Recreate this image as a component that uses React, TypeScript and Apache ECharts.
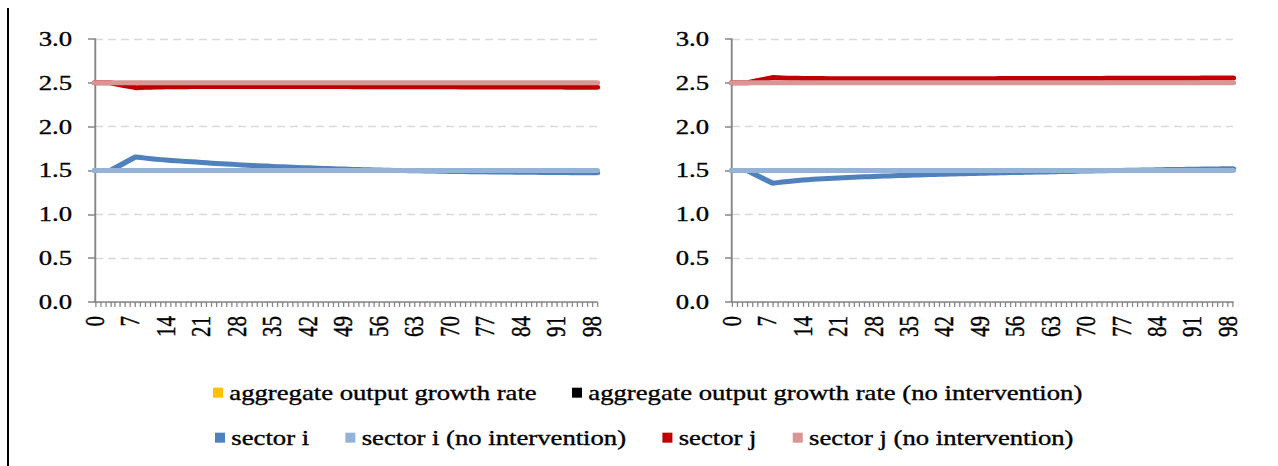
import React, { useEffect, useRef } from "react";
import * as echarts from "echarts";

const categories = [
  "0","1","2","3","4","5","6","7","8","9","10","11","12","13","14","15","16","17","18","19",
  "20","21","22","23","24","25","26","27","28","29","30","31","32","33","34","35","36","37","38","39",
  "40","41","42","43","44","45","46","47","48","49","50","51","52","53","54","55","56","57","58","59",
  "60","61","62","63","64","65","66","67","68","69","70","71","72","73","74","75","76","77","78","79",
  "80","81","82","83","84","85","86","87","88","89","90","91","92","93","94","95","96","97","98","99"
];

const yTicks = [0, 0.5, 1.0, 1.5, 2.0, 2.5, 3.0];

// Left panel
const leftSectorI = [
  1.5, 1.5, 1.5, 1.5,
  1.531, 1.562, 1.593, 1.624, 1.655,
  1.648, 1.641, 1.635, 1.629, 1.624, 1.619,
  1.615, 1.611, 1.607, 1.603, 1.599, 1.596, 1.592,
  1.588, 1.584, 1.581, 1.577, 1.574, 1.57, 1.567,
  1.564, 1.561, 1.558, 1.555, 1.552, 1.55, 1.547,
  1.544, 1.542, 1.539, 1.537, 1.535, 1.532, 1.53,
  1.528, 1.526, 1.524, 1.522, 1.52, 1.518, 1.516,
  1.514, 1.512, 1.511, 1.509, 1.508, 1.506, 1.505,
  1.503, 1.502, 1.501, 1.5, 1.499, 1.498, 1.497,
  1.496, 1.495, 1.494, 1.493, 1.492, 1.491, 1.49,
  1.489, 1.489, 1.488, 1.487, 1.486, 1.486, 1.485,
  1.484, 1.484, 1.483, 1.482, 1.482, 1.481, 1.481,
  1.48, 1.479, 1.479, 1.478, 1.478, 1.477, 1.477,
  1.476, 1.476, 1.475, 1.475, 1.474, 1.474, 1.473,
  1.473
];
const leftSectorINo = [
  1.5,1.5,1.5,1.5,1.5,1.5,1.5,1.5,1.5,1.5,1.5,1.5,1.5,1.5,1.5,1.5,1.5,1.5,1.5,1.5,
  1.5,1.5,1.5,1.5,1.5,1.5,1.5,1.5,1.5,1.5,1.5,1.5,1.5,1.5,1.5,1.5,1.5,1.5,1.5,1.5,
  1.5,1.5,1.5,1.5,1.5,1.5,1.5,1.5,1.5,1.5,1.5,1.5,1.5,1.5,1.5,1.5,1.5,1.5,1.5,1.5,
  1.5,1.5,1.5,1.5,1.5,1.5,1.5,1.5,1.5,1.5,1.5,1.5,1.5,1.5,1.5,1.5,1.5,1.5,1.5,1.5,
  1.5,1.5,1.5,1.5,1.5,1.5,1.5,1.5,1.5,1.5,1.5,1.5,1.5,1.5,1.5,1.5,1.5,1.5,1.5,1.5
];
const leftSectorJ = [
  2.5, 2.5, 2.5, 2.5,
  2.489, 2.478, 2.467, 2.456, 2.445,
  2.447, 2.449, 2.451, 2.452, 2.453, 2.454,
  2.455, 2.455, 2.456, 2.456, 2.457, 2.457, 2.457,
  2.458, 2.458, 2.458, 2.458, 2.458, 2.458, 2.458,
  2.458, 2.458, 2.458, 2.458, 2.458, 2.458, 2.458,
  2.458, 2.458, 2.458, 2.458, 2.458, 2.458, 2.458,
  2.458, 2.458, 2.457, 2.457, 2.457, 2.457, 2.457,
  2.457, 2.456, 2.456, 2.456, 2.456, 2.456, 2.456,
  2.455, 2.455, 2.455, 2.455, 2.455, 2.455, 2.455,
  2.455, 2.455, 2.454, 2.454, 2.454, 2.454, 2.454,
  2.454, 2.453, 2.453, 2.453, 2.453, 2.453, 2.453,
  2.453, 2.452, 2.452, 2.452, 2.452, 2.452, 2.452,
  2.452, 2.452, 2.452, 2.452, 2.452, 2.452, 2.452,
  2.452, 2.451, 2.451, 2.451, 2.451, 2.451, 2.451,
  2.451
];
const leftSectorJNo = [
  2.5,2.5,2.5,2.5,2.5,2.5,2.5,2.5,2.5,2.5,2.5,2.5,2.5,2.5,2.5,2.5,2.5,2.5,2.5,2.5,
  2.5,2.5,2.5,2.5,2.5,2.5,2.5,2.5,2.5,2.5,2.5,2.5,2.5,2.5,2.5,2.5,2.5,2.5,2.5,2.5,
  2.5,2.5,2.5,2.5,2.5,2.5,2.5,2.5,2.5,2.5,2.5,2.5,2.5,2.5,2.5,2.5,2.5,2.5,2.5,2.5,
  2.5,2.5,2.5,2.5,2.5,2.5,2.5,2.5,2.5,2.5,2.5,2.5,2.5,2.5,2.5,2.5,2.5,2.5,2.5,2.5,
  2.5,2.5,2.5,2.5,2.5,2.5,2.5,2.5,2.5,2.5,2.5,2.5,2.5,2.5,2.5,2.5,2.5,2.5,2.5,2.5
];

// Right panel
const rightSectorI = [
  1.5, 1.5, 1.5, 1.5,
  1.471, 1.442, 1.413, 1.384, 1.355,
  1.362, 1.369, 1.375, 1.381, 1.386, 1.391,
  1.395, 1.399, 1.403, 1.406, 1.409, 1.412, 1.415,
  1.418, 1.421, 1.424, 1.426, 1.428, 1.43, 1.432,
  1.434, 1.436, 1.438, 1.44, 1.442, 1.444, 1.446,
  1.448, 1.45, 1.452, 1.453, 1.455, 1.456, 1.458,
  1.459, 1.461, 1.462, 1.464, 1.465, 1.467, 1.468,
  1.469, 1.471, 1.472, 1.473, 1.474, 1.476, 1.477,
  1.478, 1.479, 1.481, 1.482, 1.483, 1.484, 1.486,
  1.487, 1.488, 1.489, 1.49, 1.491, 1.493, 1.494,
  1.495, 1.496, 1.497, 1.498, 1.499, 1.5, 1.501,
  1.502, 1.503, 1.504, 1.505, 1.506, 1.507, 1.508,
  1.509, 1.51, 1.511, 1.511, 1.512, 1.513, 1.514,
  1.515, 1.516, 1.516, 1.517, 1.518, 1.519, 1.52,
  1.52
];
const rightSectorINo = [
  1.5,1.5,1.5,1.5,1.5,1.5,1.5,1.5,1.5,1.5,1.5,1.5,1.5,1.5,1.5,1.5,1.5,1.5,1.5,1.5,
  1.5,1.5,1.5,1.5,1.5,1.5,1.5,1.5,1.5,1.5,1.5,1.5,1.5,1.5,1.5,1.5,1.5,1.5,1.5,1.5,
  1.5,1.5,1.5,1.5,1.5,1.5,1.5,1.5,1.5,1.5,1.5,1.5,1.5,1.5,1.5,1.5,1.5,1.5,1.5,1.5,
  1.5,1.5,1.5,1.5,1.5,1.5,1.5,1.5,1.5,1.5,1.5,1.5,1.5,1.5,1.5,1.5,1.5,1.5,1.5,1.5,
  1.5,1.5,1.5,1.5,1.5,1.5,1.5,1.5,1.5,1.5,1.5,1.5,1.5,1.5,1.5,1.5,1.5,1.5,1.5,1.5
];
const rightSectorJ = [
  2.5, 2.5, 2.5, 2.5,
  2.512, 2.524, 2.536, 2.548, 2.56,
  2.557, 2.555, 2.553, 2.552, 2.551, 2.55,
  2.55, 2.549, 2.549, 2.549, 2.548, 2.548, 2.548,
  2.548, 2.548, 2.548, 2.548, 2.548, 2.548, 2.548,
  2.548, 2.548, 2.548, 2.548, 2.548, 2.548, 2.548,
  2.548, 2.548, 2.548, 2.548, 2.548, 2.548, 2.548,
  2.548, 2.548, 2.548, 2.548, 2.548, 2.548, 2.548,
  2.548, 2.548, 2.548, 2.549, 2.549, 2.549, 2.549,
  2.549, 2.549, 2.549, 2.549, 2.549, 2.549, 2.549,
  2.549, 2.549, 2.55, 2.55, 2.55, 2.55, 2.55,
  2.55, 2.55, 2.55, 2.551, 2.551, 2.551, 2.551,
  2.551, 2.551, 2.551, 2.552, 2.552, 2.552, 2.552,
  2.552, 2.552, 2.553, 2.553, 2.553, 2.553, 2.553,
  2.553, 2.554, 2.554, 2.554, 2.554, 2.554, 2.555,
  2.555
];
const rightSectorJNo = [
  2.5,2.5,2.5,2.5,2.5,2.5,2.5,2.5,2.5,2.5,2.5,2.5,2.5,2.5,2.5,2.5,2.5,2.5,2.5,2.5,
  2.5,2.5,2.5,2.5,2.5,2.5,2.5,2.5,2.5,2.5,2.5,2.5,2.5,2.5,2.5,2.5,2.5,2.5,2.5,2.5,
  2.5,2.5,2.5,2.5,2.5,2.5,2.5,2.5,2.5,2.5,2.5,2.5,2.5,2.5,2.5,2.5,2.5,2.5,2.5,2.5,
  2.5,2.5,2.5,2.5,2.5,2.5,2.5,2.5,2.5,2.5,2.5,2.5,2.5,2.5,2.5,2.5,2.5,2.5,2.5,2.5,
  2.5,2.5,2.5,2.5,2.5,2.5,2.5,2.5,2.5,2.5,2.5,2.5,2.5,2.5,2.5,2.5,2.5,2.5,2.5,2.5
];

const NAME_AGG = "aggregate output growth rate";
const NAME_AGG_NO = "aggregate output growth rate (no intervention)";
const NAME_I = "sector i";
const NAME_I_NO = "sector i (no intervention)";
const NAME_J = "sector j";
const NAME_J_NO = "sector j (no intervention)";

const COLORS: Record<string, string> = {
  [NAME_AGG]: "#FFC000",
  [NAME_AGG_NO]: "#000000",
  [NAME_I]: "#4F81BD",
  [NAME_I_NO]: "#95B3D7",
  [NAME_J]: "#C00000",
  [NAME_J_NO]: "#D99694",
};

// horizontal stretch of the reference image
const W = 1006;
const H = 466;
const K = 1278 / W;
const FONT = "'Liberation Serif', 'Times New Roman', serif";
const FS = 21;
const TEXT = {
  color: "#000",
  fontFamily: FONT,
  fontSize: FS,
  textBorderColor: "#000",
  textBorderWidth: 0.35,
};

export default function App() {
  const ref = useRef<HTMLDivElement>(null);

  useEffect(() => {
    if (!ref.current) return;
    const chart = echarts.init(ref.current, undefined, { renderer: "svg" });

    const panels = [
      { left: 95, right: 597, data: [leftSectorI, leftSectorINo, leftSectorJ, leftSectorJNo] },
      { left: 732, right: 1233, data: [rightSectorI, rightSectorINo, rightSectorJ, rightSectorJNo] },
    ];

    const grids = panels.map((p) => ({
      left: p.left / K,
      width: (p.right - p.left) / K,
      top: 39,
      height: 263,
      containLabel: false,
    }));

    const xAxes = panels.map((_, i) => ({
      type: "category",
      gridIndex: i,
      data: categories,
      boundaryGap: false,
      axisLine: { show: true, lineStyle: { color: "#868686", width: 1.5 } },
      axisTick: { show: true, interval: 0, length: 5, lineStyle: { color: "#868686", width: 1 } },
      axisLabel: { interval: 6, rotate: 90, margin: 14, ...TEXT },
      splitLine: { show: false },
    }));

    const yAxes = panels.map((_, i) => ({
      type: "value",
      gridIndex: i,
      min: yTicks[0],
      max: yTicks[yTicks.length - 1],
      interval: 0.5,
      axisLine: { show: true, lineStyle: { color: "#868686", width: 1.5 } },
      axisTick: { show: true, length: 7 / K, lineStyle: { color: "#868686", width: 1.5 } },
      axisLabel: {
        margin: 23 / K,
        ...TEXT,
        formatter: (v: number) => v.toFixed(1),
      },
      splitLine: {
        show: true,
        lineStyle: { color: "#D9D9D9", width: 1.3, type: [8 / K, 5 / K] },
      },
    }));

    const names = [NAME_I, NAME_I_NO, NAME_J, NAME_J_NO];
    const series: any[] = [];
    panels.forEach((p, i) => {
      series.push({
        name: NAME_AGG, type: "line", xAxisIndex: i, yAxisIndex: i, data: [],
        itemStyle: { color: COLORS[NAME_AGG] }, lineStyle: { color: COLORS[NAME_AGG] }, symbol: "none",
      });
      series.push({
        name: NAME_AGG_NO, type: "line", xAxisIndex: i, yAxisIndex: i, data: [],
        itemStyle: { color: COLORS[NAME_AGG_NO] }, lineStyle: { color: COLORS[NAME_AGG_NO] }, symbol: "none",
      });
      names.forEach((n, j) => {
        series.push({
          name: n,
          type: "line",
          xAxisIndex: i,
          yAxisIndex: i,
          data: p.data[j],
          symbol: "none",
          showSymbol: false,
          lineStyle: { color: COLORS[n], width: 5, cap: "round", join: "round" },
          itemStyle: { color: COLORS[n] },
          z: 2 + j,
        });
      });
    });

    const legendCommon = {
      orient: "horizontal",
      icon: "rect",
      itemWidth: 10 / K,
      itemHeight: 10,
      padding: 0,
      selectedMode: false,
      textStyle: TEXT,
    };

    chart.setOption({
      animation: false,
      backgroundColor: "#fff",
      grid: grids,
      xAxis: xAxes,
      yAxis: yAxes,
      legend: [
        { ...legendCommon, left: 213 / K, top: 382, itemGap: 35 / K, data: [NAME_AGG, NAME_AGG_NO] },
        { ...legendCommon, left: 215 / K, top: 427, itemGap: 36 / K, data: [NAME_I, NAME_I_NO, NAME_J, NAME_J_NO] },
      ],
      graphic: [
        { type: "rect", shape: { x: 7 / K, y: 8, width: 2 / K, height: H - 8 }, style: { fill: "#000" } },
      ],
      series,
    });

    return () => chart.dispose();
  }, []);

  return (
    <div
      ref={ref}
      style={{
        position: "absolute",
        left: 0,
        top: 0,
        width: W,
        height: H,
        transform: `scaleX(${K})`,
        transformOrigin: "0 0",
      }}
    />
  );
}
